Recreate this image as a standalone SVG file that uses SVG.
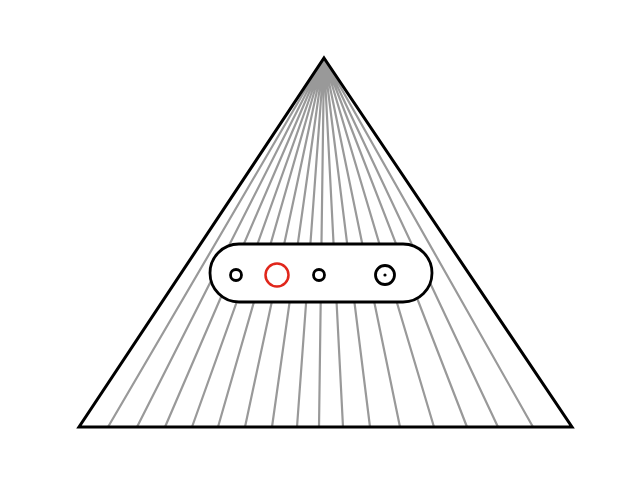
<svg xmlns="http://www.w3.org/2000/svg" width="640" height="499" viewBox="0 0 640 499">
<style>
.ray{stroke:#999;stroke-width:2.2;fill:none}
.edge{stroke:#000;stroke-width:3;fill:none;stroke-linejoin:miter}
.hole{stroke:#000;stroke-width:2.8;fill:#fff}
</style>
<rect width="640" height="499" fill="#fff"/>
<g id="rays">
<path class="ray" d="M324 58L108 427M324 58L137 427M324 58L165 427M324 58L192 427M324 58L218 427M324 58L245 427M324 58L272 427M324 58L297 427M324 58L319 427M324 58L343 427M324 58L370 427M324 58L400 427M324 58L434 427M324 58L467 427M324 58L498 427M324 58L533 427"/>
</g>
<g id="triangle">
<path class="edge" d="M324 58L572 427L79 427Z"/>
</g>
<g id="plate">
<rect x="210" y="244" width="222" height="58" rx="29" class="hole"/>
<circle cx="236" cy="275" r="5.5" class="hole"/>
<circle cx="277" cy="275" r="11.5" fill="none" stroke="#e0261b" stroke-width="2.5"/>
<circle cx="319" cy="275" r="5.5" class="hole"/>
<circle cx="385" cy="275" r="9.5" class="hole"/>
<circle cx="385" cy="275" r="1.6" fill="#000"/>
</g>
</svg>
